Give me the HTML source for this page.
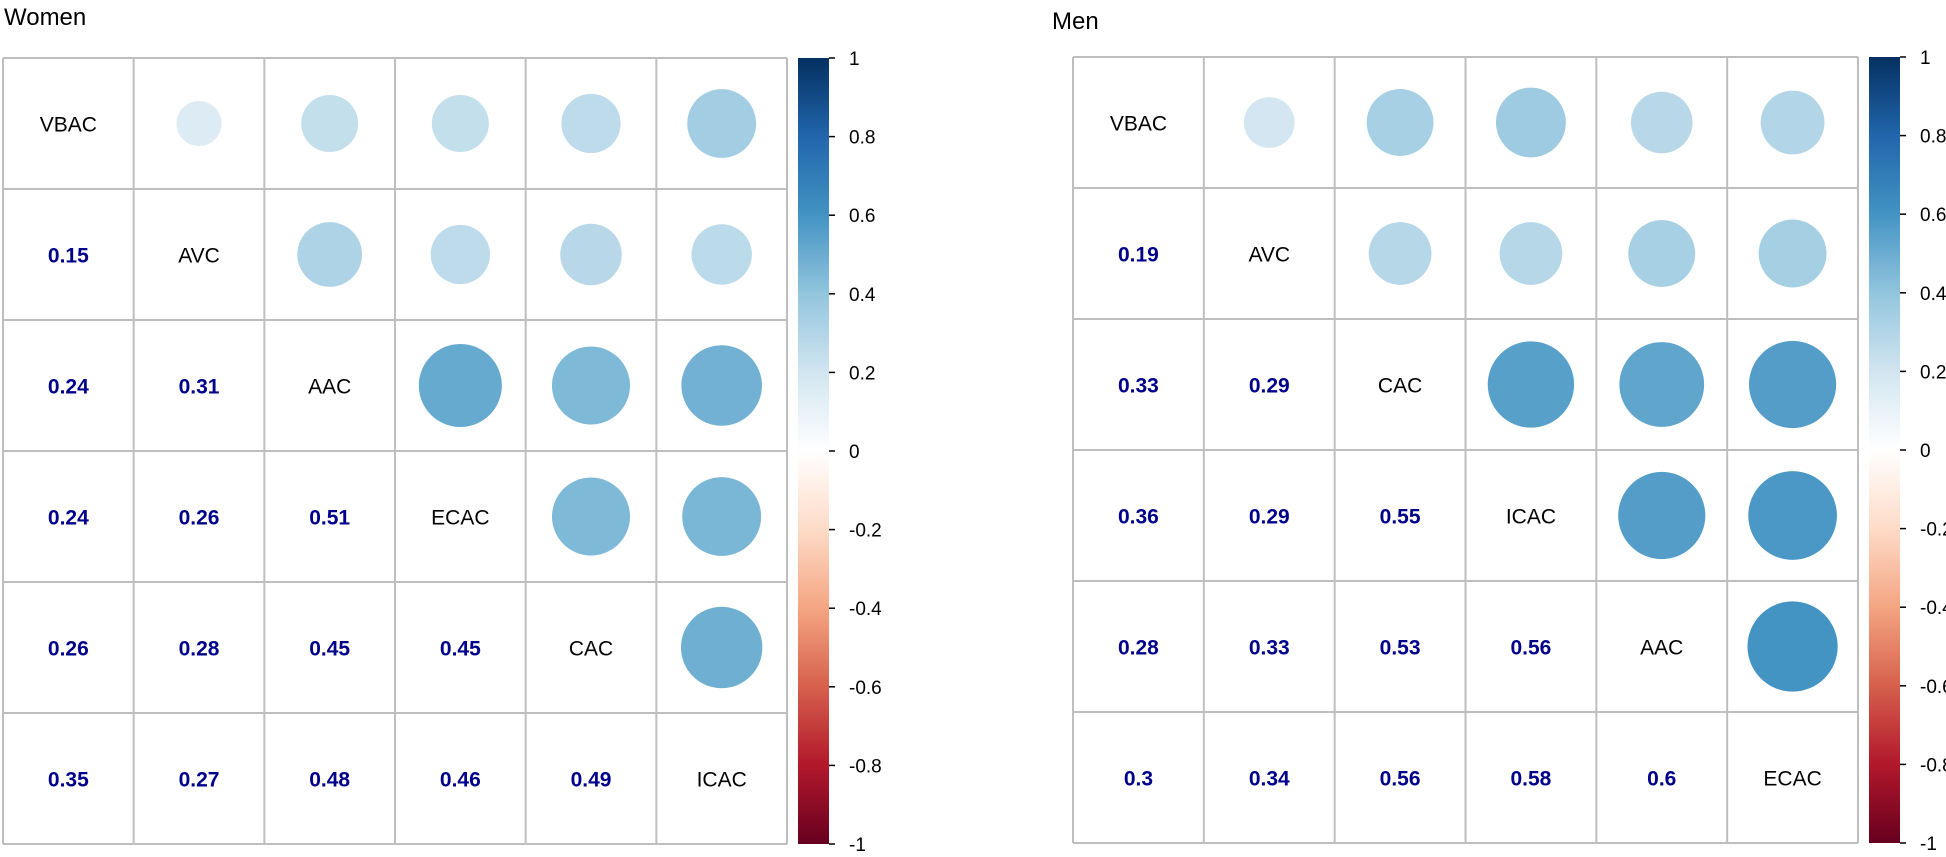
<!DOCTYPE html>
<html><head><meta charset="utf-8"><style>
html,body{margin:0;padding:0;background:#fff;}
svg{display:block;font-family:"Liberation Sans",Arial,sans-serif;}
</style></head><body>
<svg id="chart" width="1946" height="857" viewBox="0 0 1946 857"></svg>
<script>
const womenLabels = ["VBAC","AVC","AAC","ECAC","CAC","ICAC"];
const womenLower = [
  [],
  [0.15],
  [0.24,0.31],
  [0.24,0.26,0.51],
  [0.26,0.28,0.45,0.45],
  [0.35,0.27,0.48,0.46,0.49]
];
const menLabels = ["VBAC","AVC","CAC","ICAC","AAC","ECAC"];
const menLower = [
  [],
  [0.19],
  [0.33,0.29],
  [0.36,0.29,0.55],
  [0.28,0.33,0.53,0.56],
  [0.3,0.34,0.56,0.58,0.6]
];
const colorbarTicks = [1,0.8,0.6,0.4,0.2,0,-0.2,-0.4,-0.6,-0.8,-1];
const rdbu = ["#67001F","#B2182B","#D6604D","#F4A582","#FDDBC7","#FFFFFF","#D1E5F0","#92C5DE","#4393C3","#2166AC","#053061"];

const NS="http://www.w3.org/2000/svg";
const svg=document.getElementById('chart');
function mk(tag,attrs,parent){const e=document.createElementNS(NS,tag);for(const k in attrs)e.setAttribute(k,attrs[k]);(parent||svg).appendChild(e);return e;}
function hex(h){return [1,3,5].map(i=>parseInt(h.substr(i,2),16));}
function colorFor(v){
  const t=(v+1)/2*(rdbu.length-1);
  const i=Math.min(Math.floor(t),rdbu.length-2);const f=t-i;
  const a=hex(rdbu[i]),b=hex(rdbu[i+1]);
  return "rgb("+a.map((x,j)=>Math.round(x+(b[j]-x)*f)).join(",")+")";
}
function panel(name,title,titleX,titleY,labels,lower,x0,y0,x1,y1,cbx){
  const g=mk('g',{});
  
  
  const t=mk('text',{x:titleX,y:titleY,'font-size':24,fill:'#000'},g);
  t.textContent=title;
  
  
  const n=labels.length,cw=(x1-x0)/n,ch=(y1-y0)/n;
  const xs=i=>x0+cw*(i+0.5), ys=i=>y0+ch*(i+0.5);
  const rmax=Math.min(cw,ch)/2*0.89;
  const val=(r,c)=>r>c?lower[r][c]:lower[c][r];
  for(let r=0;r<n;r++)for(let c=0;c<n;c++){
    if(c>r){
      const v=val(r,c);
      const ci=mk('circle',{cx:xs(c),cy:ys(r),r:rmax*Math.sqrt(Math.abs(v)),fill:colorFor(v)},g);
      
      
    }else{
      const tx=mk('text',{x:xs(c),y:ys(r)+8,'text-anchor':'middle','font-size':21},g);
      if(c===r){tx.textContent=labels[r];tx.setAttribute('fill','#000');
        }
      else{tx.textContent=String(lower[r][c]);tx.setAttribute('fill','#00008B');tx.setAttribute('font-weight','bold');
        }
      
    }
  }
  for(let i=0;i<=n;i++){
    const lx=mk('line',{x1:x0+cw*i,y1:y0,x2:x0+cw*i,y2:y1,stroke:'#BEBEBE','stroke-width':2},g);
    
    
    const ly=mk('line',{x1:x0,y1:y0+ch*i,x2:x1,y2:y0+ch*i,stroke:'#BEBEBE','stroke-width':2},g);
    
    
  }
  const gid=name+'-grad';
  const defs=mk('defs',{},g);
  const lg=mk('linearGradient',{id:gid,x1:0,y1:1,x2:0,y2:0},defs);
  rdbu.forEach((c,i)=>mk('stop',{offset:(i/(rdbu.length-1)),'stop-color':c},lg));
  const bar=mk('rect',{x:cbx,y:y0,width:31,height:y1-y0,fill:'url(#'+gid+')'},g);
  
  
  const cy=v=>y1-(v+1)/2*(y1-y0);
  colorbarTicks.forEach(v=>{
    const tk=mk('line',{x1:cbx+31,y1:cy(v),x2:cbx+37,y2:cy(v),stroke:'#000','stroke-width':1.5},g);
    
    
    const tl=mk('text',{x:cbx+51,y:cy(v)+7,'font-size':19,fill:'#000'},g);
    tl.textContent=String(v);
    
    
  });
}
panel('women','Women',4,25,womenLabels,womenLower,3,58,787,844,798);
panel('men','Men',1052,29,menLabels,menLower,1073,57,1858,843,1869);
</script>
</body></html>
